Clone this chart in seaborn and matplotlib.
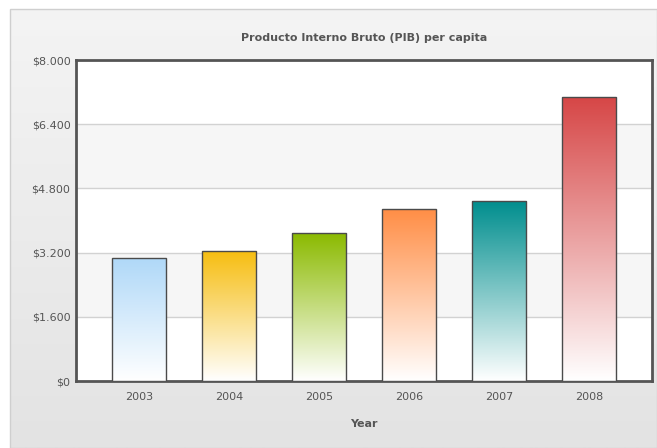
import numpy as np
import pandas as pd
import matplotlib
matplotlib.use("Agg")
import matplotlib.pyplot as plt
from matplotlib.colors import LinearSegmentedColormap
from matplotlib.patches import Rectangle
from matplotlib.ticker import FuncFormatter
import seaborn as sns

years = ["2003", "2004", "2005", "2006", "2007", "2008"]
gdp = [3070, 3240, 3680, 4280, 4480, 7090]
colors = ["#AFD8F8", "#F6BD0F", "#8BBA00", "#FF8E46", "#008E8E", "#D64646"]
y_ticks = [0, 1600, 3200, 4800, 6400, 8000]

df = pd.DataFrame({"Year": years, "GDP": gdp})

sns.set_theme(style="white")
plt.rcParams['font.family'] = ['DejaVu Sans']

W, H = 657, 448
fig = plt.figure(figsize=(W / 100, H / 100), dpi=100)
fig.patch.set_facecolor("white")

# background panel with vertical gradient
bg = fig.add_axes([0, 0, 1, 1], zorder=-10)
bg.set_xlim(0, W)
bg.set_ylim(H, 0)
bg.axis("off")
grad = np.linspace(0, 1, 256).reshape(-1, 1)
bg_cmap = LinearSegmentedColormap.from_list("bg", ["#f4f4f4", "#e3e3e3"])
bg.imshow(grad, cmap=bg_cmap, extent=[10, W, H, 9], aspect="auto", zorder=0)
bg.add_patch(Rectangle((10, 9), W - 10, H - 9, fill=False, edgecolor="#cfcfcf", lw=1, zorder=1))

# plot axes: x 76..652, y 60..381 (pixels)
left, right, top, bottom = 76, 652, 60, 381
ax = fig.add_axes([left / W, 1 - bottom / H, (right - left) / W, (bottom - top) / H])
ax.set_facecolor("white")

sns.barplot(data=df, x="Year", y="GDP", ax=ax, width=0.61, palette=colors,
            hue="Year", legend=False, edgecolor="#4a4a4a", linewidth=1, zorder=3)

ax.set_xlim(-0.7, 5.7)
ax.set_ylim(0, 8000)

# alternate bands and gridlines
for i in range(len(y_ticks) - 1):
    if i % 2 == 1:
        ax.axhspan(y_ticks[i], y_ticks[i + 1], color="#f6f6f6", zorder=0, lw=0)
for t in y_ticks[1:-1]:
    ax.axhline(t, color="#d2d2d2", lw=1.0, zorder=1)

# gradient fills inside bars
for patch, c in zip(ax.patches, colors):
    x0, y0 = patch.get_x(), patch.get_y()
    w, h = patch.get_width(), patch.get_height()
    cmap = LinearSegmentedColormap.from_list("g", ["#ffffff", c])
    g = np.linspace(0, 1, 256).reshape(-1, 1)
    im = ax.imshow(g, cmap=cmap, extent=[x0, x0 + w, y0, y0 + h], origin="lower",
                   aspect="auto", zorder=3.5)
    im.set_clip_path(patch)
    patch.set_facecolor("none")
    patch.set_zorder(4)

ax.set_aspect("auto")
ax.set_xlim(-0.7, 5.7)
ax.set_ylim(0, 8000)

ax.set_yticks(y_ticks)
ax.yaxis.set_major_formatter(FuncFormatter(lambda v, p: "$" + f"{int(v):,}".replace(",", ".")))
ax.tick_params(axis="both", length=0, labelsize=8, colors="#555555")
ax.tick_params(axis="x", pad=8)
ax.tick_params(axis="y", pad=4)

for s in ax.spines.values():
    s.set_color("#555555")
    s.set_linewidth(2)
    s.set_visible(True)

ax.set_xlabel("Year", fontsize=8, fontweight="bold", color="#555555", labelpad=12)
ax.set_ylabel("")
fig.text(364 / W, 1 - 38 / H, "Producto Interno Bruto (PIB) per capita",
         ha="center", va="center", fontsize=8, fontweight="bold", color="#555555")

fig.savefig("out.png", dpi=100)
